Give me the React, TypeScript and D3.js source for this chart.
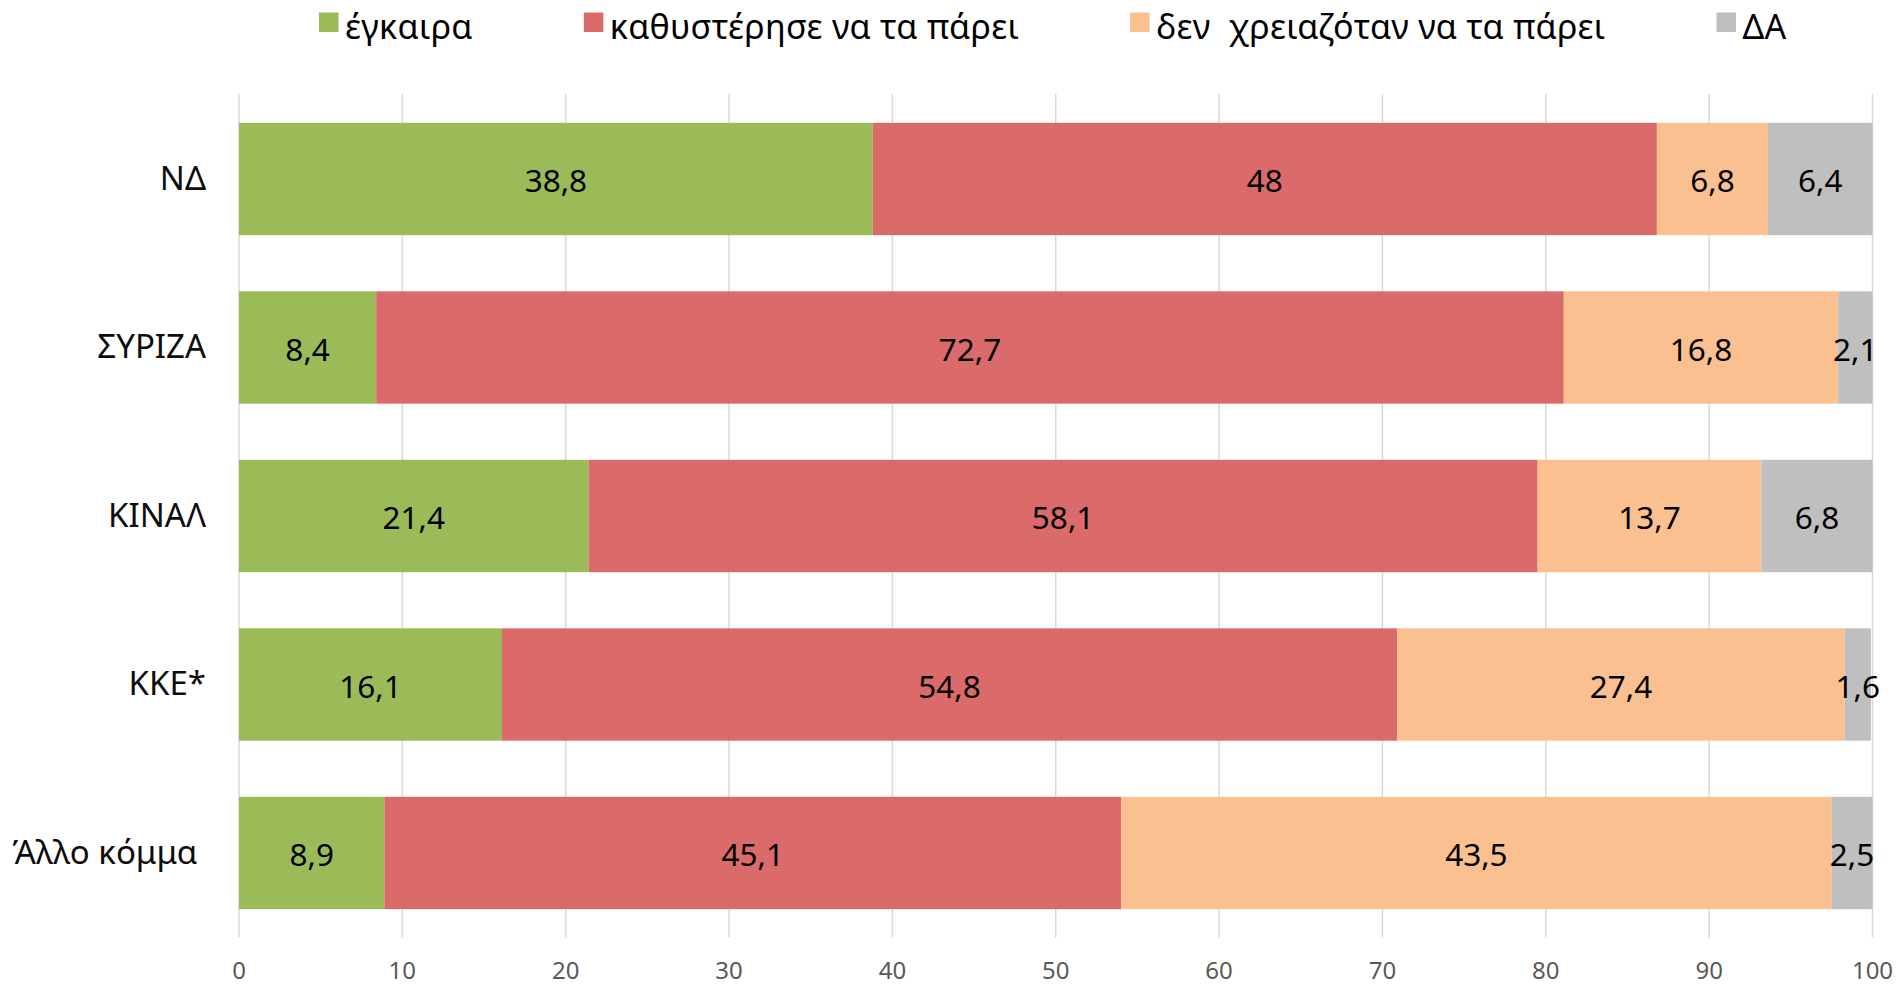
import React, { useEffect, useRef } from "react";
import * as d3 from "d3";

const categories = ["ΝΔ", "ΣΥΡΙΖΑ", "ΚΙΝΑΛ", "ΚΚΕ*", "Άλλο κόμμα "];
const seriesNames = ["έγκαιρα", "καθυστέρησε να τα πάρει", "δεν  χρειαζόταν να τα πάρει", "ΔΑ"];
const onTime = [38.8, 8.4, 21.4, 16.1, 8.9];
const delayed = [48, 72.7, 58.1, 54.8, 45.1];
const notNeeded = [6.8, 16.8, 13.7, 27.4, 43.5];
const noAnswer = [6.4, 2.1, 6.8, 1.6, 2.5];
const xTicks = [0, 10, 20, 30, 40, 50, 60, 70, 80, 90, 100];
const colors = ["#9BBB59", "#DA6B6A", "#FAC090", "#BFBFBF"];

const W = 1901;
const H = 985;
const FONT = "'Noto Sans', 'DejaVu Sans', sans-serif";

export default function App() {
  const ref = useRef<SVGSVGElement | null>(null);

  useEffect(() => {
    const svg = d3.select(ref.current);
    svg.selectAll("*").remove();

    const series = [onTime, delayed, notNeeded, noAnswer];
    const rows = categories.map((c, i) => {
      const o: any = { cat: c };
      series.forEach((s, k) => (o["s" + k] = s[i]));
      return o;
    });
    const keys = series.map((_, k) => "s" + k);
    const stacked = d3.stack().keys(keys)(rows);

    const x = d3.scaleLinear().domain([0, 100]).range([239, 1872.5]);
    const y = d3
      .scaleBand()
      .domain(categories)
      .range([94.75, 937.25])
      .paddingInner(1 / 3)
      .paddingOuter(1 / 6);

    // gridlines
    svg
      .append("g")
      .selectAll("line")
      .data(xTicks)
      .join("line")
      .attr("x1", (d) => x(d))
      .attr("x2", (d) => x(d))
      .attr("y1", 94)
      .attr("y2", 937.5)
      .attr("stroke", "#D9D9D9")
      .attr("stroke-width", 1.5);

    // bars
    const g = svg.append("g");
    stacked.forEach((layer, k) => {
      g.append("g")
        .attr("fill", colors[k])
        .selectAll("rect")
        .data(layer)
        .join("rect")
        .attr("x", (d) => x(d[0]))
        .attr("width", (d) => x(d[1]) - x(d[0]))
        .attr("y", (d: any) => y(d.data.cat)!)
        .attr("height", y.bandwidth());
    });

    const fmt = (v: number) => String(v).replace(".", ",");

    // data labels
    stacked.forEach((layer) => {
      svg
        .append("g")
        .selectAll("text")
        .data(layer)
        .join("text")
        .attr("x", (d) => (x(d[0]) + x(d[1])) / 2)
        .attr("y", (d: any) => y(d.data.cat)! + y.bandwidth() / 2 + 13)
        .attr("text-anchor", "middle")
        .attr("font-family", FONT)
        .attr("font-size", 31.5)
        .attr("fill", "#000")
        .text((d) => fmt(+(d[1] - d[0]).toFixed(1)));
    });

    // category labels
    svg
      .append("g")
      .selectAll("text")
      .data(categories)
      .join("text")
      .attr("x", 206)
      .attr("y", (d) => y(d)! + y.bandwidth() / 2 + 10.5)
      .attr("text-anchor", "end")
      .attr("font-family", FONT)
      .attr("font-size", 33)
      .attr("fill", "#0D0D0D")
      .style("white-space", "pre")
      .text((d) => d);

    // x tick labels
    svg
      .append("g")
      .selectAll("text")
      .data(xTicks)
      .join("text")
      .attr("x", (d) => x(d))
      .attr("y", 978.5)
      .attr("text-anchor", "middle")
      .attr("font-family", FONT)
      .attr("font-size", 24)
      .attr("fill", "#595959")
      .text((d) => String(d));

    // legend
    const lg = svg.append("g");
    let cx = 319;
    seriesNames.forEach((name, k) => {
      lg.append("rect")
        .attr("x", cx)
        .attr("y", 12.5)
        .attr("width", 19.5)
        .attr("height", 19.5)
        .attr("fill", colors[k]);
      const t = lg
        .append("text")
        .attr("x", cx + 26)
        .attr("y", 38.5)
        .attr("font-family", FONT)
        .attr("font-size", 34)
        .attr("letter-spacing", 0.3)
        .attr("fill", "#000")
        .style("white-space", "pre")
        .text(name);
      const w = (t.node() as SVGTextElement).getComputedTextLength();
      cx = cx + 26 + w + 111;
    });
  }, []);

  return (
    <svg
      ref={ref}
      width={W}
      height={H}
      style={{ position: "absolute", left: 0, top: 0, background: "#fff" }}
    />
  );
}
